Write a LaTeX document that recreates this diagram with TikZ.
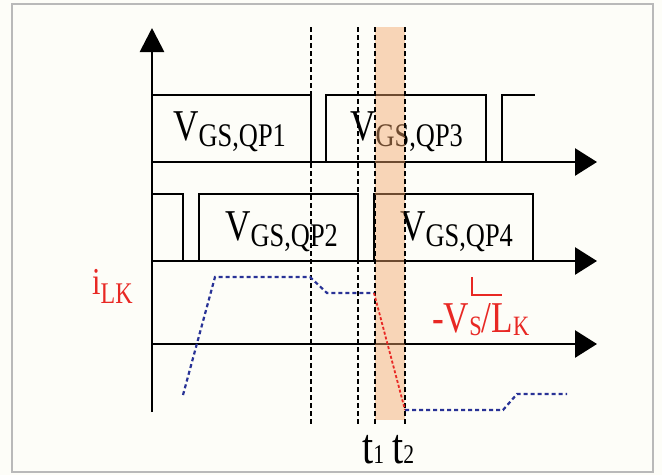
\documentclass[tikz,border=0pt]{standalone}
\usepackage{fontspec}
\setmainfont{Liberation Serif}
\newfontfamily\narrowfont[FakeStretch=0.8]{Liberation Serif}
\usetikzlibrary{arrows.meta}
\definecolor{ilkred}{RGB}{232,40,36}
\definecolor{ilkblue}{RGB}{40,50,150}
\definecolor{bandorange}{RGB}{243,165,105}
\definecolor{paper}{RGB}{253,253,248}
\newcommand{\vgs}[1]{{\fontsize{44}{44}\selectfont V}\raisebox{-6pt}{\fontsize{33}{33}\selectfont GS,#1}}

\begin{document}
\begin{tikzpicture}[x=1pt,y=-1pt,>={Triangle[length=22pt,width=27pt]},
  ax/.style={line width=2.8pt},
  gate/.style={line width=2.4pt},
  tline/.style={line width=2pt,dash pattern=on 5pt off 3pt},
  lbl/.style={inner sep=0pt,anchor=base west,font=\narrowfont}]
\useasboundingbox (0,0) rectangle (662,475);
\fill[paper] (0,0) rectangle (662,475);
\draw[gray!55,line width=2pt] (12,4) rectangle (653,472);
% axes
\draw[ax,-{Triangle[length=24pt,width=24pt]}] (152,412) -- (152,28);
\draw[ax,->] (152,162) -- (597,162);
\draw[ax,->] (152,261) -- (597,261);
\draw[ax,->] (152,344) -- (597,344);
% gate signals
\draw[gate] (152,95) -- (311,95) -- (311,162);
\draw[gate] (326,162) -- (326,95) -- (486,95) -- (486,162);
\draw[gate] (502,162) -- (502,95) -- (535,95);
\draw[gate] (152,194) -- (183,194) -- (183,261);
\draw[gate] (199,261) -- (199,194) -- (358,194) -- (358,261);
\draw[gate] (374,261) -- (374,194) -- (533,194) -- (533,261);
\node[lbl] (qp1) at (173,140) {\vgs{QP1}};
\node[lbl] (qp3) at (350,140) {\vgs{QP3}};
\node[lbl] (qp2) at (225,240) {\vgs{QP2}};
\node[lbl] (qp4) at (400,240) {\vgs{QP4}};
% interval t1-t2
\fill[bandorange,opacity=0.45] (375,27) rectangle (405,420);
\foreach \tx in {311,358,375,405}
  \draw[tline] (\tx,27) -- (\tx,425);
% leakage current
\draw[ilkblue,line width=2.2pt,dash pattern=on 4pt off 3pt]
  (183,395) -- (215,277) -- (310,277) -- (327,293) -- (374,293);
\draw[ilkred,line width=1.8pt,dash pattern=on 3pt off 2pt] (374,293) -- (405,410);
\draw[ilkblue,line width=2.2pt,dash pattern=on 4pt off 3pt]
  (405,410) -- (503,410) -- (517,394) -- (567,394);
\draw[ilkred,line width=2pt] (472,277) -- (472,295) -- (502,295);
\node[lbl,text=ilkred] (ilk) at (92,294)
  {{\fontsize{38}{38}\selectfont i}\raisebox{-9pt}{\fontsize{30}{30}\selectfont LK}};
\node[lbl,text=ilkred] (slope) at (432,332)
  {\fontsize{44}{44}\selectfont -V\raisebox{-3pt}{\fontsize{28}{28}\selectfont S}/L\raisebox{-3pt}{\fontsize{28}{28}\selectfont K}};
\node[lbl] (t1) at (362,463) {{\fontsize{50}{50}\selectfont t}{\fontsize{27}{27}\selectfont 1}};
\node[lbl] (t2) at (392,463) {{\fontsize{50}{50}\selectfont t}{\fontsize{27}{27}\selectfont 2}};
\end{tikzpicture}
\end{document}
